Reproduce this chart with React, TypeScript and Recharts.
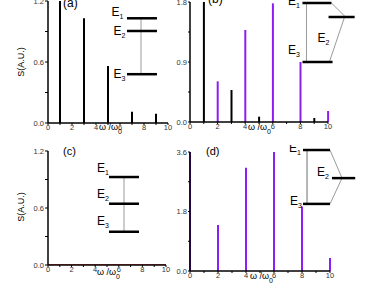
import {
  ComposedChart,
  Bar,
  Cell,
  Line,
  XAxis,
  YAxis,
  ReferenceLine,
  ReferenceDot,
} from "recharts";

const FONT = '"Liberation Sans", Arial, sans-serif';
const INK = "#000000";
const VIOLET = "#8c1ef5";
const RED = "#ff1a1a";
const LINK = "#9a9a9a";

// x axis: harmonic order ω/ω0
const xTicks = [0, 1, 2, 3, 4, 5, 6, 7, 8, 9, 10];

// (a) odd harmonics only
const aOrders = [1, 3, 5, 7, 9];
const aValues = [1.6, 1.03, 0.56, 0.11, 0.09];
const aTicks = [0, 0.3, 0.6, 0.9, 1.2];

// (b) odd (black) + even (violet) harmonics
const bBlackOrders = [1, 3, 5, 9];
const bBlackValues = [1.9, 0.48, 0.08, 0.06];
const bVioletOrders = [2, 4, 6, 8, 10];
const bVioletValues = [0.61, 1.38, 1.78, 0.9, 0.165];
const bTicks = [0, 0.45, 0.9, 1.35, 1.8];

// (c) flat spectrum
const cOrders = [0, 10];
const cValues = [0, 0];
const cTicks = [0, 0.3, 0.6, 0.9, 1.2];

// (d) even harmonics
const dOrders = [0, 2, 4, 6, 8, 10];
const dValues = [4.2, 1.39, 3.12, 3.6, 1.95, 0.39];
const dTicks = [0, 0.9, 1.8, 2.7, 3.6];

// level-scheme insets, in data units of each panel
interface Seg { x1: number; y1: number; x2: number; y2: number; w: number; c: string }
interface Tag { x: number; y: number; sub: string }

const aSegs: Seg[] = [
  { x1: 7.75, y1: 1.03, x2: 7.75, y2: 0.48, w: 1, c: LINK },
  { x1: 6.58, y1: 1.03, x2: 9.08, y2: 1.03, w: 2.5, c: INK },
  { x1: 6.58, y1: 0.905, x2: 9.08, y2: 0.905, w: 2.5, c: INK },
  { x1: 6.58, y1: 0.48, x2: 9.08, y2: 0.48, w: 2.5, c: INK },
];
const aTags: Tag[] = [
  { x: 5.3, y: 1.05, sub: "1" },
  { x: 5.45, y: 0.87, sub: "2" },
  { x: 5.45, y: 0.44, sub: "3" },
];

const bSegs: Seg[] = [
  { x1: 8.44, y1: 1.785, x2: 8.44, y2: 0.9, w: 1, c: LINK },
  { x1: 10.25, y1: 1.785, x2: 11.27, y2: 1.575, w: 1, c: LINK },
  { x1: 10.1, y1: 0.9, x2: 11.2, y2: 1.575, w: 1, c: LINK },
  { x1: 8.15, y1: 1.785, x2: 10.25, y2: 1.785, w: 2.5, c: INK },
  { x1: 10.04, y1: 1.575, x2: 11.93, y2: 1.575, w: 2.5, c: INK },
  { x1: 8.15, y1: 0.9, x2: 10.33, y2: 0.9, w: 2.5, c: INK },
];
const bTags: Tag[] = [
  { x: 7.1, y: 1.76, sub: "1" },
  { x: 9.24, y: 1.2, sub: "2" },
  { x: 7.1, y: 1.02, sub: "3" },
];

const cSegs: Seg[] = [
  { x1: 6.44, y1: 0.926, x2: 6.44, y2: 0.35, w: 1, c: LINK },
  { x1: 5.17, y1: 0.926, x2: 7.71, y2: 0.926, w: 2.5, c: INK },
  { x1: 5.17, y1: 0.645, x2: 7.71, y2: 0.645, w: 2.5, c: INK },
  { x1: 5.17, y1: 0.35, x2: 7.71, y2: 0.35, w: 2.5, c: INK },
];
const cTags: Tag[] = [
  { x: 4.15, y: 0.98, sub: "1" },
  { x: 4.15, y: 0.705, sub: "2" },
  { x: 4.15, y: 0.42, sub: "3" },
];

const dSegs: Seg[] = [
  { x1: 8.36, y1: 3.66, x2: 8.36, y2: 2.03, w: 2, c: "#b5b5b5" },
  { x1: 10.0, y1: 3.66, x2: 10.86, y2: 2.81, w: 1, c: LINK },
  { x1: 10.0, y1: 2.03, x2: 10.86, y2: 2.81, w: 1, c: LINK },
  { x1: 8.07, y1: 3.66, x2: 10.0, y2: 3.66, w: 2.5, c: INK },
  { x1: 10.14, y1: 2.81, x2: 11.8, y2: 2.81, w: 2.5, c: INK },
  { x1: 8.07, y1: 2.03, x2: 10.0, y2: 2.03, w: 2.5, c: INK },
];
const dTags: Tag[] = [
  { x: 7.07, y: 3.6, sub: "1" },
  { x: 9.07, y: 2.87, sub: "2" },
  { x: 7.14, y: 2.0, sub: "3" },
];

interface Row { x: number; v: number; color: string }

function rowsOf(orders: number[], values: number[], color: string): Row[] {
  return orders.map((x, i) => ({ x, v: values[i], color }));
}

const fmtX = (v: number) => (v % 2 === 0 ? String(v) : "");
const fmtY = (major: number[]) => (v: number) => (major.includes(v) ? v.toFixed(1) : "");

interface PanelProps {
  left: number;
  top: number;
  width: number;
  height: number;
  margin: { top: number; right: number; bottom: number; left: number };
  yWidth: number;
  yTickSize: number;
  yMax: number;
  yTicks: number[];
  rows: Row[];
  flat?: boolean;
  segs: Seg[];
  tags: Tag[];
}

function Panel(p: PanelProps) {
  const tickStyle = { fontSize: 7.5, fill: "#333", fontFamily: FONT };
  return (
    <div style={{ position: "absolute", left: p.left, top: p.top }}>
      <ComposedChart width={p.width} height={p.height} data={p.rows} margin={p.margin}>
        <XAxis
          type="number"
          dataKey="x"
          domain={[0, 10]}
          ticks={xTicks}
          interval={0}
          tickFormatter={fmtX}
          height={20}
          tickSize={2}
          tickMargin={0}
          tick={tickStyle}
          axisLine={{ stroke: INK, strokeWidth: 1.5 }}
          tickLine={{ stroke: INK }}
        />
        <YAxis
          type="number"
          domain={[0, p.yMax]}
          ticks={p.yTicks}
          interval={0}
          tickFormatter={fmtY([p.yTicks[0], p.yTicks[2], p.yTicks[4]])}
          allowDataOverflow
          width={p.yWidth}
          tickSize={p.yTickSize}
          tickMargin={1}
          tick={tickStyle}
          axisLine={{ stroke: INK, strokeWidth: 1.5 }}
          tickLine={{ stroke: INK }}
        />
        {p.flat ? (
          <Line
            dataKey="v"
            stroke={RED}
            strokeWidth={1.5}
            dot={false}
            isAnimationActive={false}
          />
        ) : (
          <Bar dataKey="v" barSize={2} isAnimationActive={false}>
            {p.rows.map((r, i) => (
              <Cell key={i} fill={r.color} />
            ))}
          </Bar>
        )}
        {p.segs.map((s, i) => (
          <ReferenceLine
            key={"s" + i}
            segment={[
              { x: s.x1, y: s.y1 },
              { x: s.x2, y: s.y2 },
            ]}
            stroke={s.c}
            strokeWidth={s.w}
            ifOverflow="visible"
          />
        ))}
        {p.tags.map((t, i) => (
          <ReferenceDot
            key={"t" + i}
            x={t.x}
            y={t.y}
            r={0}
            ifOverflow="visible"
            shape={(sp: any) => (
              <text x={sp.cx} y={sp.cy} fontFamily={FONT} fontSize={12} fill={INK}>
                E
                <tspan fontSize={7} dy={3}>
                  {t.sub}
                </tspan>
              </text>
            )}
          />
        ))}
      </ComposedChart>
    </div>
  );
}

function Note({ x, y, text, size }: { x: number; y: number; text: string; size: number }) {
  return (
    <div
      style={{
        position: "absolute",
        left: x,
        top: y,
        fontFamily: FONT,
        fontSize: size,
        lineHeight: 1,
        whiteSpace: "nowrap",
        color: INK,
      }}
    >
      {text}
    </div>
  );
}

function YTitle({ cx, cy }: { cx: number; cy: number }) {
  return (
    <div
      style={{
        position: "absolute",
        left: cx - 20,
        top: cy - 5,
        width: 40,
        textAlign: "center",
        fontFamily: FONT,
        fontSize: 9,
        lineHeight: "10px",
        transform: "rotate(-90deg)",
      }}
    >
      S(A.U.)
    </div>
  );
}

function XTitle({ x, y }: { x: number; y: number }) {
  return (
    <div
      style={{
        position: "absolute",
        left: x,
        top: y - 5,
        fontFamily: FONT,
        fontSize: 9,
        lineHeight: "10px",
        whiteSpace: "nowrap",
      }}
    >
      ω /ω<span style={{ fontSize: 7, position: "relative", top: 4 }}>0</span>
    </div>
  );
}

export default function App() {
  const aRows = rowsOf(aOrders, aValues, INK);
  const bRows = [
    ...rowsOf(bBlackOrders, bBlackValues, INK),
    ...rowsOf(bVioletOrders, bVioletValues, VIOLET),
  ].sort((m, n) => m.x - n.x);
  const cRows = rowsOf(cOrders, cValues, RED);
  const dRows = rowsOf(dOrders, dValues, VIOLET);

  return (
    <div
      style={{
        position: "fixed",
        left: 0,
        top: 0,
        width: 374,
        height: 299,
        background: "#fff",
        overflow: "hidden",
      }}
    >
      <Panel
        left={0}
        top={0}
        width={185}
        height={145}
        margin={{ top: 1, right: 17, bottom: 2, left: 18 }}
        yWidth={30}
        yTickSize={3}
        yMax={1.2}
        yTicks={aTicks}
        rows={aRows}
        segs={aSegs}
        tags={aTags}
      />
      <Panel
        left={165}
        top={0}
        width={209}
        height={145}
        margin={{ top: 2, right: 46, bottom: 3, left: 0 }}
        yWidth={25}
        yTickSize={2}
        yMax={1.8}
        yTicks={bTicks}
        rows={bRows}
        segs={bSegs}
        tags={bTags}
      />
      <Panel
        left={0}
        top={145}
        width={185}
        height={154}
        margin={{ top: 6, right: 19, bottom: 14, left: 18 }}
        yWidth={30}
        yTickSize={3}
        yMax={1.2}
        yTicks={cTicks}
        rows={cRows}
        flat
        segs={cSegs}
        tags={cTags}
      />
      <Panel
        left={165}
        top={145}
        width={209}
        height={154}
        margin={{ top: 7, right: 44, bottom: 8, left: 0 }}
        yWidth={25}
        yTickSize={2}
        yMax={3.6}
        yTicks={dTicks}
        rows={dRows}
        segs={dSegs}
        tags={dTags}
      />
      <Note x={63} y={-3} text="(a)" size={12} />
      <Note x={208} y={-7} text="(b)" size={12} />
      <Note x={63} y={146} text="(c)" size={11} />
      <Note x={206} y={146} text="(d)" size={11} />
      <YTitle cx={21} cy={62} />
      <YTitle cx={21} cy={207} />
      <XTitle x={99} y={127} />
      <XTitle x={248} y={127} />
      <XTitle x={97} y={272} />
      <XTitle x={250} y={276} />
    </div>
  );
}
